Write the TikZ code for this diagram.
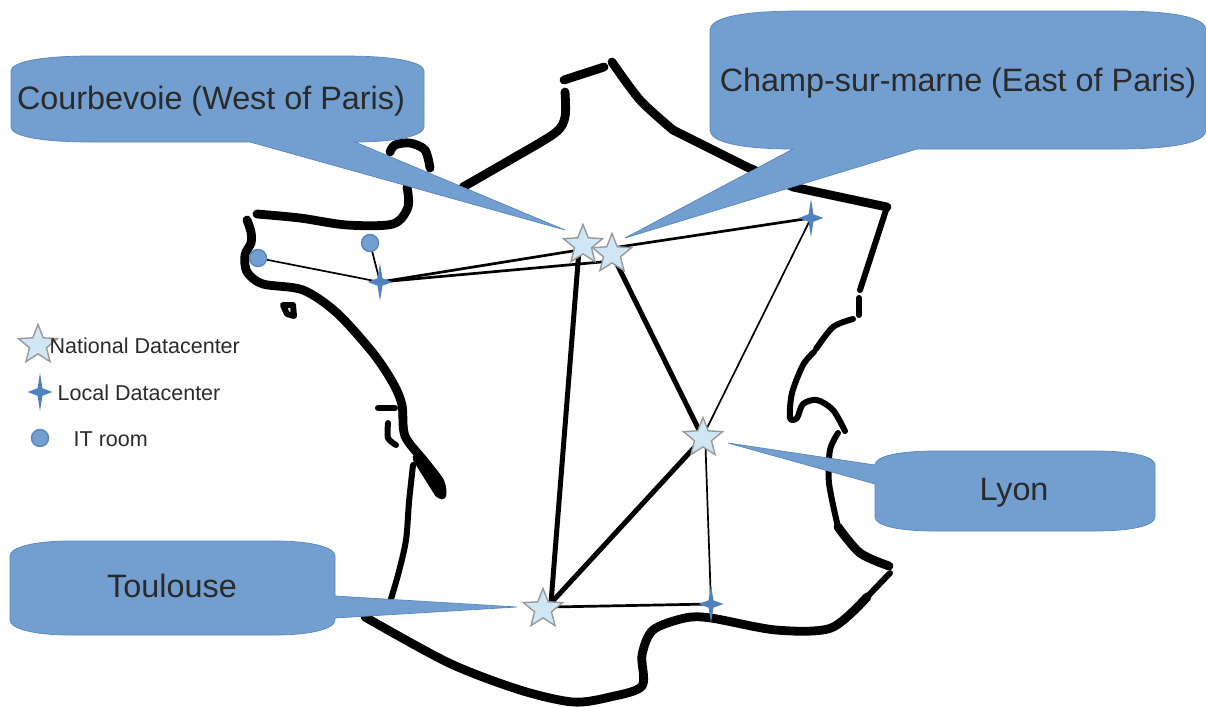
\documentclass[tikz,border=0pt]{standalone}
\usepackage{fontspec}
\setmainfont{Liberation Sans}
\usetikzlibrary{calc}
\usetikzlibrary{shapes.geometric}
\usetikzlibrary{backgrounds}
\definecolor{calloutblue}{HTML}{729FCF}
\definecolor{calloutedge}{HTML}{5A86BE}
\definecolor{starblue}{HTML}{CFE7F5}
\definecolor{localblue}{HTML}{4F81BD}
\definecolor{labelgrey}{HTML}{2A2A2A}
\tikzset{
  coast/.style={line width=0.088cm,line cap=round,line join=round},
  coastthin/.style={line width=0.06cm,line cap=round,line join=round},
  callout/.style={fill=calloutblue,draw=calloutedge,line width=0.2pt},
  bigtext/.style={text=labelgrey,font=\fontsize{9.2}{11}\selectfont,inner sep=0pt},
  legendtext/.style={text=labelgrey,font=\fontsize{6.12}{8}\selectfont,inner sep=0pt,anchor=west},
  national/.style={star,star points=5,star point ratio=2.3,minimum size=0.41cm,inner sep=0pt,fill=starblue,draw=black!40,line width=0.4pt},
  localdc/.style={star,star points=4,star point ratio=3.6,minimum size=0.38cm,inner sep=0pt,fill=localblue,draw=none,transform shape,xscale=0.65},
  itroom/.style={circle,minimum size=0.17cm,inner sep=0pt,fill=calloutblue,draw=calloutedge,line width=0.4pt},
  trunk/.style={line width=0.05cm},
  link/.style={line width=0.027cm},
  spur/.style={line width=0.017cm}
}
\begin{document}
\begin{tikzpicture}[x=0.01cm,y=-0.01cm]
\useasboundingbox (0,0) rectangle (1206,706);

% sites
\node[national] (courbevoie) at (583,245) {};
\node[national] (champ) at (612,254) {};
\node[national] (lyon) at (703,438) {};
\node[national] (toulouse) at (543,609) {};
\node[localdc] (west) at (380,282) {};
\node[localdc] (east) at (811,218) {};
\node[localdc] (south) at (711,604) {};
\node[itroom] (brest) at (258,258) {};
\node[itroom] (rennes) at (370,243) {};

% where the links really meet
\coordinate (hub) at (551,603);
\coordinate (hublow) at (551,607);
\coordinate (champlow) at (612,261);
\coordinate (champhigh) at (612,248);
\coordinate (lyontop) at (705,432);
\coordinate (courbeleg) at (579,250);

% legend
\node[national] (keynational) at (38,345) {};
\node[localdc] (keylocal) at (40,392) {};
\node[itroom] (keyroom) at (40,438) {};
\node[legendtext] (textnational) at (49,346) {National Datacenter};
\node[legendtext] (textlocal) at (57,393) {Local Datacenter};
\node[legendtext] (textroom) at (73,439) {IT room};

\begin{scope}[on background layer]
% map of the country
\draw[coast] (564,80) -- (604,67);
\draw[coast] plot[smooth] coordinates {(565,92) (565,117) (555,133) (510,160) (463,187)};
\draw[coast] plot[smooth] coordinates {(390,152) (395,145) (410,143) (425,150) (430,168)};
\draw[coast] plot[smooth] coordinates {(407,187) (408,207) (393,224) (347,225) (300,218) (257,214)};
\draw[coast] plot[smooth] coordinates {(247,220) (251,232) (251,243) (245,255) (247,272) (263,284) (303,290) (337,313) (373,353) (393,383) (402,405) (405,436) (425,462) (440,482) (442,495)};
\draw[coast,line width=0.11cm] (418,458) -- (440,493);
\draw[coastthin] plot[smooth] coordinates {(413,465) (409,502) (406,540) (398,575) (387,612)};
\draw[coast] plot[smooth] coordinates {(365,617) (449,663) (520,690) (573,702) (610,697) (642,686) (642,655) (653,630) (685,618) (711,618) (776,630) (831,628) (867,597)};
\draw[coastthin] (867,597) -- (890,573);
\draw[coast] plot[smooth] coordinates {(889,566) (860,553) (838,527)};
\draw[coastthin] plot[smooth] coordinates {(838,527) (829,483) (830,450) (838,433)};
\draw[coastthin] plot[smooth] coordinates {(845,431) (833,410) (817,400) (803,404) (797,418) (790,418) (792,393) (803,365) (814,352)};
\draw[coastthin] plot[smooth] coordinates {(816,349) (833,327) (853,319)};
\draw[coastthin] (859,315) -- (859,298);
\draw[coastthin] (860,290) -- (887,207);
\draw[coast] plot coordinates {(887,207) (793,187) (747,167) (673,130)};
\draw[coast] plot[smooth] coordinates {(673,130) (640,100) (612,62)};
% island and the small inlet
\draw[coast,line width=0.06cm] (283,305) -- (293,305) -- (294,316) -- (287,314) -- cycle;
\draw[coastthin] (378,408) -- (395,408);
\draw[coastthin] plot[smooth] coordinates {(388,423) (388,438) (396,445)};

% links
\draw[trunk] (hub) -- (courbeleg);
\draw[trunk] (hub) -- (lyon.center);
\draw[trunk] (champ.center) -- (lyon.center);
\draw[link] (west.center) -- (courbeleg);
\draw[link] (west.center) -- (champlow);
\draw[link] (champhigh) -- (east.center);
\draw[link] (hublow) -- (south.center);
\draw[spur] (lyontop) -- (east.center);
\draw[spur] (lyontop) -- (south.center);
\draw[spur] (brest.center) -- (west.center);
\draw[spur] (rennes.center) -- (west.center);
\end{scope}

% callouts
\draw[callout] (11,71) .. controls (11,62) and (40,56) .. (91,56) -- (344,56) .. controls (395,56) and (424,62) .. (424,71) -- (424,127) .. controls (424,136) and (395,142) .. (355,142) -- (565,230) -- (250,142) -- (91,142) .. controls (40,142) and (11,136) .. (11,127) -- cycle;
\draw[callout] (710,30) .. controls (710,18) and (740,11) .. (800,11) -- (1116,11) .. controls (1176,11) and (1206,18) .. (1206,30) -- (1206,130) .. controls (1206,142) and (1176,149) .. (1116,149) -- (917,149) -- (625,238) -- (793,149) .. controls (740,149) and (710,142) .. (710,130) -- cycle;
\draw[callout] (875,465) .. controls (875,456) and (900,451) .. (935,451) -- (1095,451) .. controls (1130,451) and (1155,456) .. (1155,465) -- (1155,517) .. controls (1155,526) and (1130,531) .. (1095,531) -- (935,531) .. controls (900,531) and (875,526) .. (875,517) -- (875,484) -- (728,443) -- cycle;
\draw[callout] (10,556) .. controls (10,547) and (35,541) .. (70,541) -- (275,541) .. controls (310,541) and (335,547) .. (335,556) -- (335,596) -- (517,607) -- (335,618) -- (335,620) .. controls (335,629) and (310,635) .. (275,635) -- (70,635) .. controls (35,635) and (10,629) .. (10,620) -- cycle;
\node[bigtext] (labelcourbevoie) at (211,101) {Courbevoie (West of Paris)};
\node[bigtext] (labelchamp) at (958,83) {Champ-sur-marne (East of Paris)};
\node[bigtext] (labellyon) at (1014,493) {Lyon};
\node[bigtext] (labeltoulouse) at (172,586) {Toulouse};
\end{tikzpicture}
\end{document}
